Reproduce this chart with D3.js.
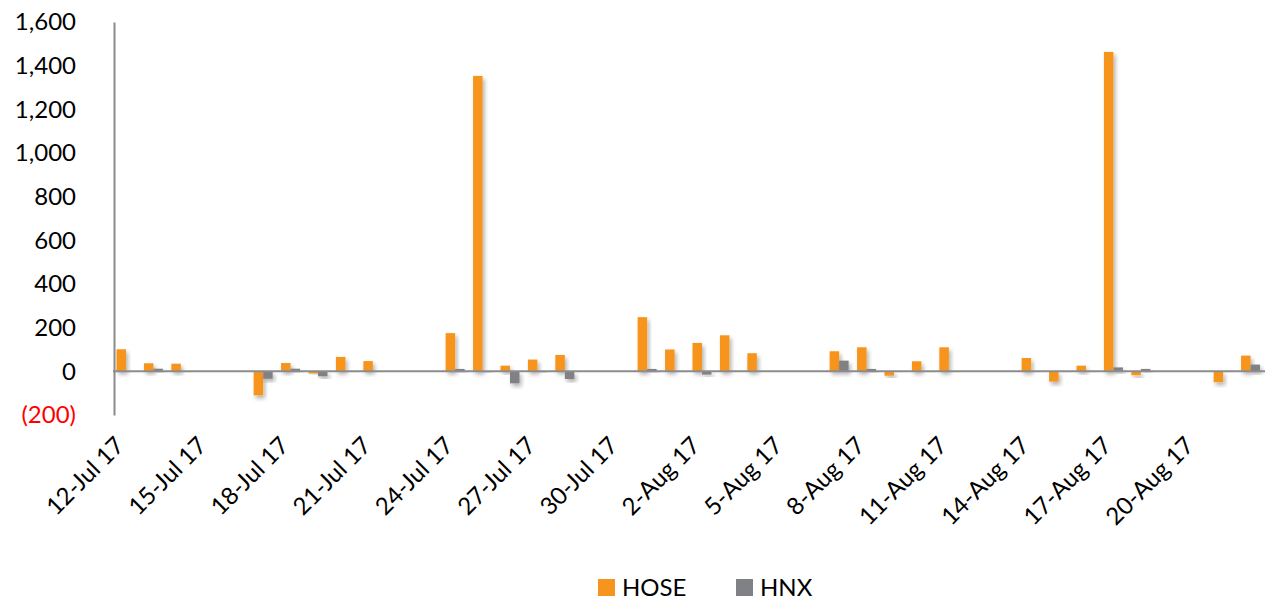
<!DOCTYPE html>
<html>
<head>
<meta charset="utf-8">
<script src="https://cdn.jsdelivr.net/npm/d3@7"></script>
<style>
  body { margin: 0; background: #fff; }
  text { font-family: Lato, "Open Sans", sans-serif; }
</style>
</head>
<body>
<div id="chart"></div>
<script>
// trading days shown on the chart
var dates = ["2017-07-12", "2017-07-13", "2017-07-14", "2017-07-17", "2017-07-18",
    "2017-07-19", "2017-07-20", "2017-07-21", "2017-07-24", "2017-07-25",
    "2017-07-26", "2017-07-27", "2017-07-28", "2017-07-31", "2017-08-01",
    "2017-08-02", "2017-08-03", "2017-08-04", "2017-08-07", "2017-08-08",
    "2017-08-09", "2017-08-10", "2017-08-11", "2017-08-14", "2017-08-15",
    "2017-08-16", "2017-08-17", "2017-08-18", "2017-08-21", "2017-08-22"];

var hose = [101, 37, 35, -110, 38, -10, 66, 47, 175, 1353,
    26, 54, 75, 248, 100, 130, 165, 83, 92, 110,
    -20, 46, 110, 61, -47, 26, 1463, -18, -50, 72];

var hnx = [-3, 12, -3, -34, 12, -23, -3, -3, 11, -4,
    -55, -4, -35, 11, -3, -15, -2, -2, 49, 11,
    -3, -3, -3, -3, -3, -3, 18, 11, -3, 31];

var series = ["HOSE", "HNX"];
var colors = ["#F7941D", "#808184"];
var yTicks = [-200, 0, 200, 400, 600, 800, 1000, 1200, 1400, 1600];

var width = 1267, height = 600;
var parse = d3.timeParse("%Y-%m-%d");

// every calendar day on the axis (weekends stay empty)
var first = parse(dates[0]);
var last = parse(dates[dates.length - 1]);
var days = d3.timeDay.range(first, d3.timeDay.offset(last, 1));
var dayKey = d3.timeFormat("%Y-%m-%d");

var svg = d3.select("#chart").append("svg")
    .attr("width", width)
    .attr("height", height);

// soft shadow like the spreadsheet bars
var defs = svg.append("defs");
defs.append("filter")
    .attr("id", "shadow")
    .attr("x", "-50%").attr("y", "-50%")
    .attr("width", "200%").attr("height", "200%")
    .append("feDropShadow")
    .attr("dx", 2).attr("dy", 3)
    .attr("stdDeviation", 2)
    .attr("flood-color", "#000")
    .attr("flood-opacity", 0.3);

var x = d3.scaleBand()
    .domain(days.map(dayKey))
    .range([113, 1265]);

var x1 = d3.scaleBand()
    .domain(series)
    .range([3.5, 22.5]);

var y = d3.scaleLinear()
    .domain([-200, 1600])
    .range([415, 22]);

// y axis
var fmt = d3.format(",");
var yAxis = svg.append("g")
    .attr("transform", "translate(114,0)")
    .call(d3.axisLeft(y)
        .tickValues(yTicks)
        .tickSize(0)
        .tickSizeOuter(0)
        .tickPadding(38)
        .tickFormat(function(d) {
            return d < 0 ? "(" + fmt(-d) + ")" : fmt(d);
        }));
yAxis.select(".domain")
    .attr("stroke", "#8c8c8c")
    .attr("stroke-width", 2);
yAxis.selectAll("text")
    .attr("font-size", 24)
    .attr("fill", function(d) { return d < 0 ? "#ff0000" : "#000"; });

// bars
var rows = dates.map(function(d, i) {
    return { key: d, values: [hose[i], hnx[i]] };
});

var groups = svg.append("g")
    .selectAll("g")
    .data(rows)
    .enter().append("g")
    .attr("transform", function(d) { return "translate(" + x(d.key) + ",0)"; });

groups.selectAll("rect")
    .data(function(d) {
        return d.values.map(function(v, j) { return { s: series[j], v: v, c: colors[j] }; });
    })
    .enter().append("rect")
    .attr("x", function(d) { return x1(d.s); })
    .attr("width", x1.bandwidth())
    .attr("y", function(d) { return y(Math.max(0, d.v)); })
    .attr("height", function(d) { return Math.abs(y(d.v) - y(0)); })
    .attr("fill", function(d) { return d.c; })
    .attr("filter", "url(#shadow)");

// zero line
svg.append("line")
    .attr("x1", 113).attr("x2", 1265)
    .attr("y1", y(0)).attr("y2", y(0))
    .attr("stroke", "#8c8c8c")
    .attr("stroke-width", 2);

// x labels every 3 days
var labelFmt = d3.timeFormat("%-d-%b %y");
var labelDays = days.filter(function(d, i) { return i % 3 === 0; });

svg.append("g")
    .selectAll("text")
    .data(labelDays)
    .enter().append("text")
    .attr("transform", function(d) {
        return "translate(" + (x(dayKey(d)) + x.bandwidth() / 2 - 1) + ",447) rotate(-45)";
    })
    .attr("text-anchor", "end")
    .attr("font-size", 24)
    .attr("fill", "#000")
    .text(function(d) { return labelFmt(d); });

// legend
var legend = svg.append("g")
    .selectAll("g")
    .data(series)
    .enter().append("g")
    .attr("transform", function(d, i) { return "translate(" + (598 + i * 138) + ",579)"; });

legend.append("rect")
    .attr("width", 17).attr("height", 17)
    .attr("fill", function(d, i) { return colors[i]; });

legend.append("text")
    .attr("x", 24).attr("y", 17)
    .attr("font-size", 24)
    .attr("fill", "#000")
    .text(function(d) { return d; });
</script>
</body>
</html>
